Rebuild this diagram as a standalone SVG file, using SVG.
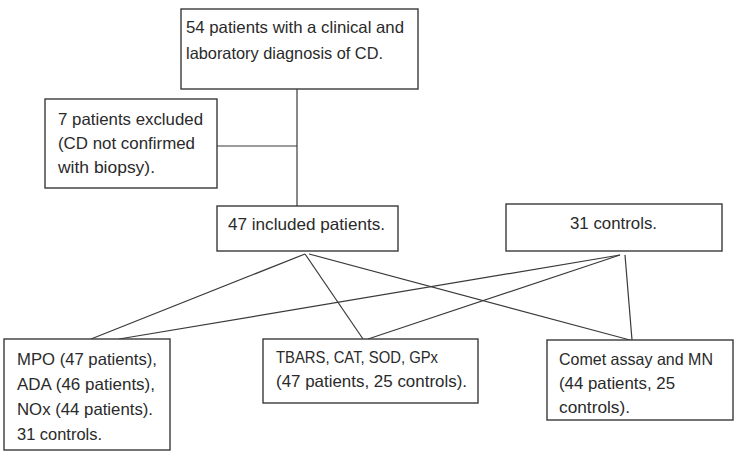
<svg xmlns="http://www.w3.org/2000/svg" width="737" height="459" viewBox="0 0 737 459">
<style>
.box{fill:#fff;stroke:#3a3a3a;stroke-width:1.4}
.t{font-family:"Liberation Sans",Arial,sans-serif;font-size:16.5px;fill:#2a2a2a}
.c{fill:none;stroke:#3a3a3a;stroke-width:1.2}
</style>
<rect width="737" height="459" fill="#fff"/>
<g id="connectors">
<polyline class="c" points="297,89 297,206"/>
<line class="c" x1="217" y1="146" x2="297" y2="146"/>
<line class="c" x1="305" y1="254" x2="91" y2="339"/>
<line class="c" x1="305" y1="254" x2="363" y2="339"/>
<line class="c" x1="309" y1="254" x2="630" y2="340"/>
<line class="c" x1="620" y1="255" x2="119" y2="339"/>
<line class="c" x1="620" y1="255" x2="368" y2="339"/>
<line class="c" x1="625" y1="255" x2="632" y2="340"/>
</g>
<g id="n-top">
<rect class="box" x="181" y="9" width="237" height="80"/>
<text class="t" x="186" y="33" textLength="218" lengthAdjust="spacingAndGlyphs">54 patients with a clinical and</text>
<text class="t" x="186" y="59" textLength="197" lengthAdjust="spacingAndGlyphs">laboratory diagnosis of CD.</text>
</g>
<g id="n-excluded">
<rect class="box" x="45" y="99" width="172" height="89"/>
<text class="t" x="58" y="125" textLength="145" lengthAdjust="spacingAndGlyphs">7 patients excluded</text>
<text class="t" x="58" y="149" textLength="137" lengthAdjust="spacingAndGlyphs">(CD not confirmed</text>
<text class="t" x="58" y="173" textLength="97" lengthAdjust="spacingAndGlyphs">with biopsy).</text>
</g>
<g id="n-included">
<rect class="box" x="217" y="206" width="181" height="45"/>
<text class="t" x="228" y="230" textLength="157" lengthAdjust="spacingAndGlyphs">47 included patients.</text>
</g>
<g id="n-controls">
<rect class="box" x="506" y="204" width="216" height="47"/>
<text class="t" x="570" y="229" textLength="87" lengthAdjust="spacingAndGlyphs">31 controls.</text>
</g>
<g id="n-mpo">
<rect class="box" x="4" y="339" width="166" height="111"/>
<text class="t" x="17" y="365" textLength="140" lengthAdjust="spacingAndGlyphs">MPO (47 patients),</text>
<text class="t" x="17" y="390" textLength="138" lengthAdjust="spacingAndGlyphs">ADA (46 patients),</text>
<text class="t" x="17" y="415" textLength="136" lengthAdjust="spacingAndGlyphs">NOx (44 patients).</text>
<text class="t" x="17" y="440" textLength="85" lengthAdjust="spacingAndGlyphs">31 controls.</text>
</g>
<g id="n-tbars">
<rect class="box" x="263" y="339" width="215" height="64"/>
<text class="t" x="276" y="363" textLength="162" lengthAdjust="spacingAndGlyphs">TBARS, CAT, SOD, GPx</text>
<text class="t" x="276" y="387" textLength="191" lengthAdjust="spacingAndGlyphs">(47 patients, 25 controls).</text>
</g>
<g id="n-comet">
<rect class="box" x="547" y="340" width="186" height="80"/>
<text class="t" x="559" y="365" textLength="154" lengthAdjust="spacingAndGlyphs">Comet assay and MN</text>
<text class="t" x="559" y="389" textLength="116" lengthAdjust="spacingAndGlyphs">(44 patients, 25</text>
<text class="t" x="559" y="413" textLength="71" lengthAdjust="spacingAndGlyphs">controls).</text>
</g>
</svg>
